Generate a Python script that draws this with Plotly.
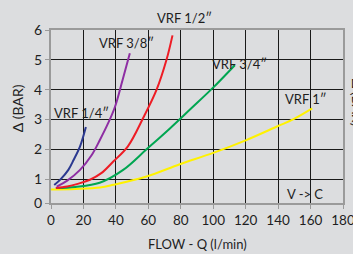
import plotly.graph_objects as go

# Data (flow l/min, delta bar)
x_14 = [2, 6, 10.7, 14, 17.9, 21.5]
y_14 = [0.8, 1.0, 1.31, 1.65, 2.1, 2.75]
x_38 = [3.5, 10, 17.9, 25, 30.2, 35, 39.4, 44, 48.6]
y_38 = [0.75, 0.95, 1.31, 1.8, 2.32, 2.85, 3.42, 4.3, 5.22]
x_12 = [3, 10, 17, 24, 31, 38.4, 47.4, 56.8, 65.1, 71.2, 74.9]
y_12 = [0.7, 0.75, 0.85, 0.98, 1.2, 1.59, 2.1, 3.05, 4.0, 5.0, 5.82]
x_34 = [3, 15, 30, 44.5, 58.9, 73.3, 86, 99.6, 113.3]
y_34 = [0.7, 0.74, 0.88, 1.31, 2.0, 2.7, 3.35, 4.05, 4.82]
x_1 = [0, 15, 30.2, 38.4, 58.9, 79.4, 100, 120, 140, 149.2, 161]
y_1 = [0.65, 0.67, 0.72, 0.81, 1.09, 1.5, 1.88, 2.3, 2.78, 3.0, 3.37]

series_names = ['VRF 1/4″', 'VRF 3/8″', 'VRF 1/2″', 'VRF 3/4″', 'VRF 1″']
colors = ['#2b3990', '#8e2ea3', '#ee1c25', '#00a651', '#fff200']

x_ticks = [0, 20, 40, 60, 80, 100, 120, 140, 160, 180]
y_tickvals = [0.2, 1, 2, 3, 4, 5, 6]
y_ticktext = ['0', '1', '2', '3', '4', '5', '6']

FONT = 'Lato'
TXT = '#1e1e1e'
BG = '#dcdddf'

fig = go.Figure()
data = [(x_1, y_1), (x_34, y_34), (x_12, y_12), (x_38, y_38), (x_14, y_14)]
order = [4, 3, 2, 1, 0]
for (xs, ys), i in zip(data, order):
    fig.add_trace(go.Scatter(x=xs, y=ys, mode='lines', name=series_names[i],
                             line=dict(color=colors[i], width=2, shape='spline'),
                             showlegend=False, hoverinfo='skip'))

ann = [
    ('VRF 1/4″', 0.6, 3.21),
    ('VRF 3/8″', 28.3, 5.57),
    ('VRF 3/4″', 97.9, 4.85),
    ('VRF 1″', 142.9, 3.68),
    ('V -> C', 144.5, 0.5),
]
for t, x, y in ann:
    fig.add_annotation(x=x, y=y, text=t, showarrow=False, xanchor='left', yanchor='middle',
                       font=dict(family=FONT, size=13, color=TXT))
# label above the plot area (y in paper units)
fig.add_annotation(x=64, xref='x', y=1.072, yref='paper', text='VRF 1/2″', showarrow=False,
                   xanchor='left', yanchor='middle', font=dict(family=FONT, size=13, color=TXT))

fig.add_annotation(xref='paper', yref='paper', x=-0.115, y=0.55, text='Δ (BAR)', textangle=-90,
                   showarrow=False, xanchor='center', yanchor='middle',
                   font=dict(family=FONT, size=14, color=TXT))
fig.add_annotation(xref='paper', yref='paper', x=0.5, y=-0.235, text='FLOW - Q (l/min)',
                   showarrow=False, xanchor='center', yanchor='middle',
                   font=dict(family=FONT, size=13, color=TXT))
fig.add_annotation(xref='paper', yref='paper', x=1.012, y=0.58, text='Δ (BAR)', textangle=90,
                   showarrow=False, xanchor='left', yanchor='middle',
                   font=dict(family=FONT, size=14, color=TXT))

fig.update_xaxes(range=[0, 180], tickvals=x_ticks, showgrid=True, gridcolor='#1a1a1a', gridwidth=1.2,
                 showline=True, linecolor='#9a9a9a', linewidth=2, mirror=True, automargin=False,
                 ticks='outside', ticklen=4, tickcolor='#9a9a9a', zeroline=False,
                 ticklabeloverflow='allow',
                 tickfont=dict(family=FONT, size=13.5, color=TXT))
fig.update_yaxes(range=[0.2, 6.0], tickvals=y_tickvals, ticktext=y_ticktext, showgrid=True,
                 gridcolor='#1a1a1a', gridwidth=1.2, automargin=False,
                 showline=True, linecolor='#9a9a9a', linewidth=2, mirror=True,
                 ticks='outside', ticklen=4, tickcolor='#9a9a9a', zeroline=False,
                 tickfont=dict(family=FONT, size=14, color=TXT))

fig.update_layout(width=353, height=254, margin=dict(l=51, r=10, t=30, b=51, autoexpand=False),
                  paper_bgcolor=BG, plot_bgcolor=BG, showlegend=False)

fig.write_html('out.html', config={'displayModeBar': False},
               post_script="document.body.style.margin='0';document.body.style.overflow='hidden';document.body.style.background='#dcdddf';")
